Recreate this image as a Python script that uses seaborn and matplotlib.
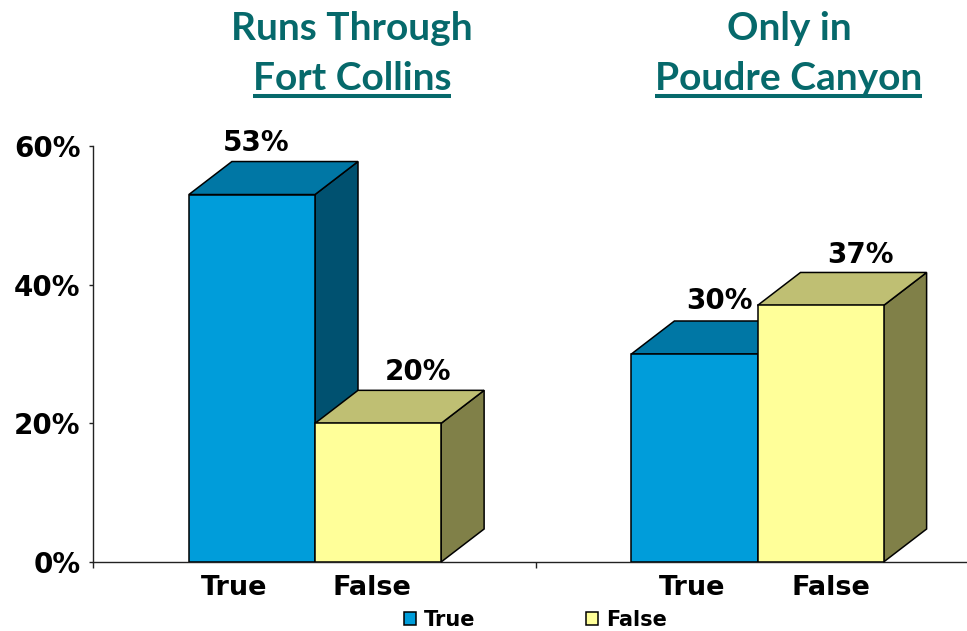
import matplotlib
matplotlib.use("Agg")
import matplotlib.pyplot as plt
from matplotlib.lines import Line2D
from matplotlib.patches import Polygon
import pandas as pd
import seaborn as sns

groups = ["Runs Through\nFort Collins", "Only in\nPoudre Canyon"]
answers = ["True", "False"]
true_values = [53, 30]
false_values = [20, 37]
y_ticks = [0, 20, 40, 60]

W, H = 967, 631
DX, DY = 43, 33  # depth of the fake 3d boxes, in pixels
front = {"True": "#009DDA", "False": "#FFFF99"}
top = {"True": "#0077A5", "False": "#BFBF73"}
side = {"True": "#005170", "False": "#808048"}

df = pd.DataFrame({
    "group": groups * 2,
    "answer": ["True"] * 2 + ["False"] * 2,
    "value": true_values + false_values,
})

sns.set_theme(style="white")
plt.rcParams["font.family"] = ["DejaVu Sans"]
plt.rcParams["font.weight"] = "bold"

fig = plt.figure(figsize=(W / 100, H / 100), dpi=100)
ax = fig.add_axes([93 / W, (H - 562) / H, (W - 93) / W, 416 / H])
sns.barplot(data=df, x="group", y="value", hue="answer", hue_order=answers,
            palette=front, width=0.57, gap=0, saturation=1, edgecolor="black",
            linewidth=1.1, ax=ax)
x_left = -(315 - 93) / 442.5
ax.set_xlim(x_left, (W - 315) / 442.5)
ax.set_ylim(0, 60)

px_x = (ax.get_xlim()[1] - ax.get_xlim()[0]) / (W - 93)
px_y = 60 / 416
dx, dy = DX * px_x, DY * px_y

# side and top faces, True first so False sits in front of it
for i, (name, bars) in enumerate(zip(answers, ax.containers)):
    for bar in bars:
        x0, x1 = bar.get_x(), bar.get_x() + bar.get_width()
        h = bar.get_height()
        bar.set_zorder(3 + 2 * i)
        ax.add_patch(Polygon([(x1, 0), (x1 + dx, dy), (x1 + dx, h + dy), (x1, h)],
                             fc=side[name], ec="black", lw=1.1, clip_on=False, zorder=2 + 2 * i))
        ax.add_patch(Polygon([(x0, h), (x0 + dx, h + dy), (x1 + dx, h + dy), (x1, h)],
                             fc=top[name], ec="black", lw=1.1, clip_on=False, zorder=2 + 2 * i))

# label offsets from the bar's top centre, the original has them hand placed
label_off = {"True": [(4, 52), (25, 53)], "False": [(40, 51), (40, 50)]}
cat_off = {"True": [-18, -2], "False": [-6, 10]}
for name, bars in zip(answers, ax.containers):
    for j, bar in enumerate(bars):
        xc = bar.get_x() + bar.get_width() / 2
        ox, oy = label_off[name][j]
        ax.annotate(f"{bar.get_height():.0f}%", (xc, bar.get_height()),
                    xytext=(ox * 0.72, oy * 0.72), textcoords="offset points",
                    ha="center", va="center", fontsize=20, color="black",
                    annotation_clip=False, zorder=10)
        ax.annotate(name, (xc, 0), xytext=(cat_off[name][j] * 0.72, -26 * 0.72),
                    textcoords="offset points", ha="center", va="center",
                    fontsize=19.5, color="black", annotation_clip=False)

ax.set_xlabel("")
ax.set_ylabel("")
ax.set_xticks([x_left, 0.5])
ax.set_xticklabels(["", ""])
ax.set_yticks(y_ticks)
ax.set_yticklabels([f"{v}%" for v in y_ticks], fontsize=20, color="black")
ax.tick_params(axis="y", left=True, length=3, width=1, color="#222222", pad=6)
ax.tick_params(axis="x", bottom=True, length=4.3, width=1, color="#222222")
sns.despine(ax=ax, right=True, top=True)
for s in ["left", "bottom"]:
    ax.spines[s].set_color("#222222")
    ax.spines[s].set_linewidth(1)

sns.move_legend(ax, "lower left", bbox_to_anchor=(404 / W, 1 / H),
                bbox_transform=fig.transFigure, ncol=2, frameon=False, title=None,
                fontsize=15, handlelength=0.58, handleheight=0.58, labelcolor="black",
                handletextpad=0.38, columnspacing=5.3, borderpad=0, borderaxespad=0)

# titles
title_color = "#06696B"
for g, xc in zip(groups, [352, 789]):
    line1, line2 = g.split("\n")
    fig.text(xc / W, 1 - 40 / H, line1, ha="center", va="baseline", family="Lato",
             fontsize=28, color=title_color)
    fig.text(xc / W, 1 - 90 / H, line2, ha="center", va="baseline", family="Lato",
             fontsize=28, color=title_color)
fig.add_artist(Line2D([253 / W, 451 / W], [1 - 95.5 / H] * 2, color=title_color, lw=2.9,
                      solid_capstyle="butt"))
fig.add_artist(Line2D([655 / W, 922 / W], [1 - 95.5 / H] * 2, color=title_color, lw=2.9,
                      solid_capstyle="butt"))

fig.savefig("out.png", dpi=100)
